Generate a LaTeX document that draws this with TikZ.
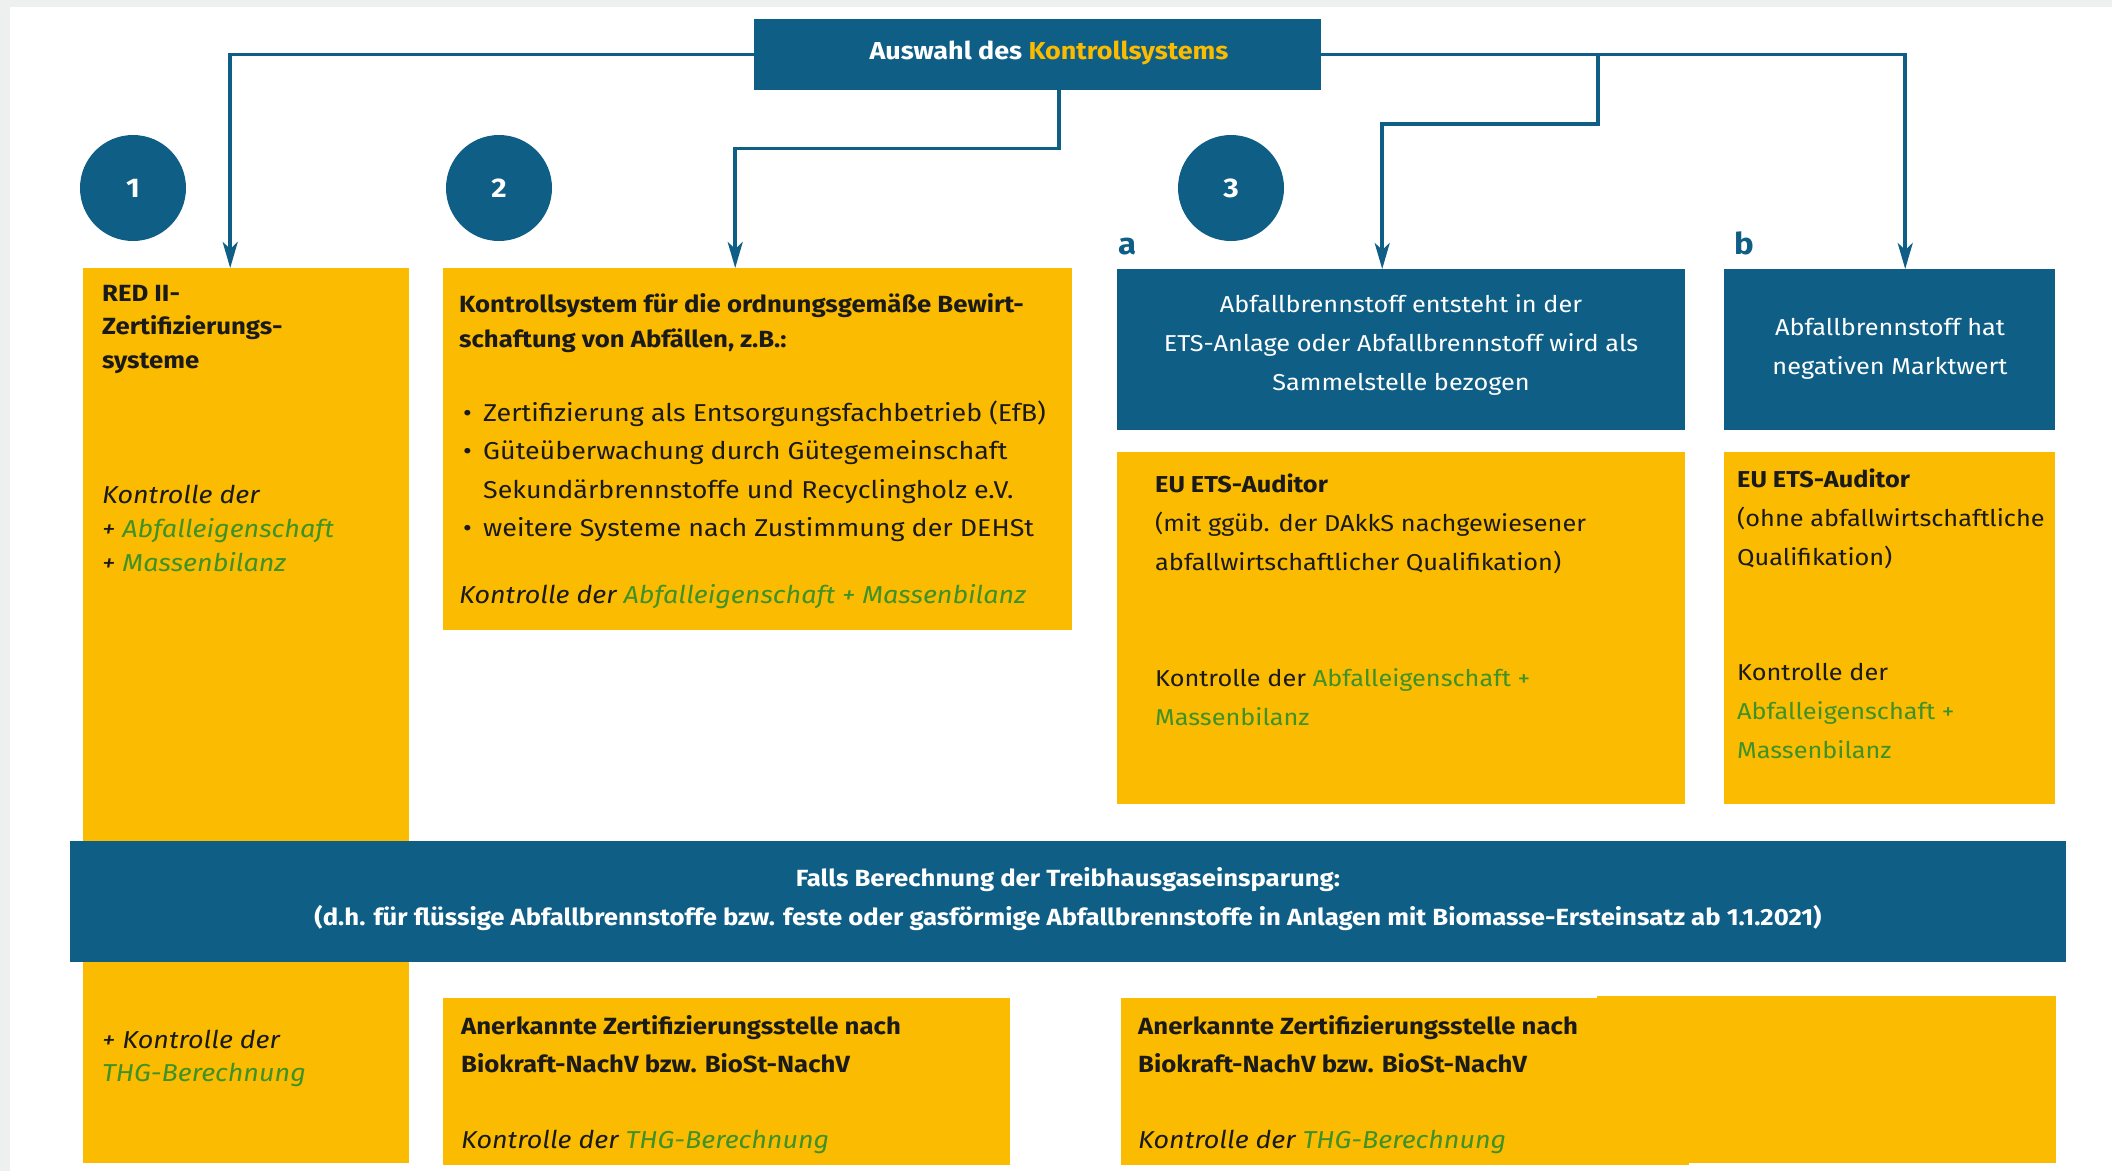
\documentclass[tikz,border=0pt]{standalone}
\usepackage{fontspec}
\setmainfont[FakeStretch=1.1]{Fira Sans}
\usetikzlibrary{arrows.meta}
\definecolor{ublue}{HTML}{0E5E86}
\definecolor{uyellow}{HTML}{FABB00}
\definecolor{tgreen}{HTML}{3F9129}
\definecolor{tblack}{HTML}{1A1A1A}
\definecolor{framegray}{HTML}{EEF0EF}
\newcommand{\fl}{\rule{0pt}{22pt}}
\begin{document}
\begin{tikzpicture}[x=1pt,y=-1pt,
  ybox/.style={fill=uyellow,draw=none,inner sep=0pt,anchor=north west},
  bbox/.style={fill=ublue,draw=none,inner sep=0pt,anchor=north west},
  txt/.style={inner sep=0pt,anchor=north west,align=left,text=tblack},
  wtxt/.style={inner sep=0pt,anchor=north,align=center,text=white},
  numc/.style={circle,fill=ublue,minimum size=106pt,inner sep=0pt,text=white,font=\fontsize{27}{27}\selectfont\bfseries},
  lbl/.style={inner sep=0pt,anchor=base west,text=ublue,font=\fontsize{30}{30}\selectfont\bfseries},
  conn/.style={draw=ublue,line width=3.5pt,-{Stealth[length=26pt,width=15pt,inset=7pt]}},
  fr/.style={font=\fontsize{23}{#1}\selectfont},
  fb/.style={font=\fontsize{23.4}{#1}\selectfont\bfseries},
  fi/.style={font=\fontsize{24.5}{#1}\selectfont\itshape},
  fu/.style={font=\fontsize{24.4}{#1}\selectfont}]
\fill[framegray] (0,0) rectangle (2112,1171);
\fill[white] (10,7) rectangle (2112,1171);
\useasboundingbox (0,0) rectangle (2112,1171);

% boxes
\node[ybox,minimum width=326pt,minimum height=895pt] (box1) at (83,268) {};
\node[ybox,minimum width=629pt,minimum height=362pt] (box2) at (443,268) {};
\node[bbox,minimum width=568pt,minimum height=161pt] (boxa) at (1117,269) {};
\node[bbox,minimum width=331pt,minimum height=161pt] (boxb) at (1724,269) {};
\node[ybox,minimum width=568pt,minimum height=352pt] (boxay) at (1117,452) {};
\node[ybox,minimum width=331pt,minimum height=352pt] (boxby) at (1724,452) {};
\node[bbox,minimum width=1996pt,minimum height=121pt] (band) at (70,841) {};
\node[ybox,minimum width=567pt,minimum height=167pt] (bot2) at (443,998) {};
\node[ybox,minimum width=568pt,minimum height=167pt] (bot3) at (1121,998) {};
\fill[uyellow] (1597,996) rectangle (2056,1163);
\node[bbox,minimum width=567pt,minimum height=71pt] (title) at (754,19) {};
\node[inner sep=0pt,anchor=base,text=white,font=\fontsize{24.5}{25}\selectfont\bfseries] (ttext) at (1049,59) {Auswahl des \textcolor{uyellow}{Kontrollsystems}};

% circles and labels
\node[numc] (c1) at (133,188) {1};
\node[numc] (c2) at (499,188) {2};
\node[numc] (c3) at (1231,188) {3};
\node[lbl] (la) at (1118,254) {a};
\node[lbl] (lb) at (1734,254) {b};

% connectors
\coordinate (br) at (1598,53);
\draw[conn] (title.west) -| ([xshift=-16pt]box1.north);
\draw[conn] ([xshift=21.5pt]title.south) -- ++(0,58) -| ([xshift=-22.5pt]box2.north);
\draw[conn] (title.east) -| ([xshift=15.5pt]boxb.north);
\draw[conn] (br) -- ++(0,71) -| ([xshift=-19pt]boxa.north);

% box 1 texts
\node[txt,fb=33.5] (t1a) at (102,279) {\fl RED II-\\Zertifizierungs-\\systeme};
\node[txt,fi=34] (t1b) at (102,481) {\fl Kontrolle der\\+ \textcolor{tgreen}{Abfalleigenschaft}\\+ \textcolor{tgreen}{Massenbilanz}};
\node[txt,fi=33] (t1c) at (102,1026) {\fl + Kontrolle der\\\textcolor{tgreen}{THG-Berechnung}};

% box 2 texts
\node[txt,fb=35] (t2a) at (459,290) {\fl Kontrollsystem für die ordnungsgemäße Bewirt-\\schaftung von Abfällen, z.B.:};
\node[txt,fu=38.5] (t2b) at (463,399) {\fl\makebox[20pt][l]{•}Zertifizierung als Entsorgungsfachbetrieb (EfB)\\\makebox[20pt][l]{•}Güteüberwachung durch Gütegemeinschaft\\\makebox[20pt][l]{}Sekundärbrennstoffe und Recyclingholz e.V.\\\makebox[20pt][l]{•}weitere Systeme nach Zustimmung der DEHSt};
\node[txt,fi=31] (t2c) at (459,581) {\fl Kontrolle der \textcolor{tgreen}{Abfalleigenschaft + Massenbilanz}};

% box a / b blue texts
\node[wtxt,fr=39] (tat) at (1401,290) {\fl Abfallbrennstoff entsteht in der\\ETS-Anlage oder Abfallbrennstoff wird als\\Sammelstelle bezogen};
\node[wtxt,fr=39] (tbt) at (1890,313) {\fl Abfallbrennstoff hat\\negativen Marktwert};

% box a / b yellow texts
\node[txt,fr=39] (tay1) at (1155,470) {\fl\textbf{EU ETS-Auditor}\\(mit ggüb. der DAkkS nachgewiesener\\abfallwirtschaftlicher Qualifikation)};
\node[txt,fr=39] (tay2) at (1155,664) {\fl Kontrolle der \textcolor{tgreen}{Abfalleigenschaft +}\\\textcolor{tgreen}{Massenbilanz}};
\node[txt,fr=39] (tby1) at (1737,465) {\fl\textbf{EU ETS-Auditor}\\(ohne abfallwirtschaftliche\\Qualifikation)};
\node[txt,fr=39] (tby2) at (1737,658) {\fl Kontrolle der\\\textcolor{tgreen}{Abfalleigenschaft +}\\\textcolor{tgreen}{Massenbilanz}};

% band text
\node[wtxt,fb=39] (tband) at (1068,864) {\fl Falls Berechnung der Treibhausgaseinsparung:\\(d.h. für flüssige Abfallbrennstoffe bzw. feste oder gasförmige Abfallbrennstoffe in Anlagen mit Biomasse-Ersteinsatz ab 1.1.2021)};

% bottom texts
\node[txt,fb=38] (tb2a) at (461,1012) {\fl Anerkannte Zertifizierungsstelle nach\\Biokraft-NachV bzw. BioSt-NachV};
\node[txt,fi=31] (tb2b) at (461,1126) {\fl Kontrolle der \textcolor{tgreen}{THG-Berechnung}};
\node[txt,fb=38] (tb3a) at (1138,1012) {\fl Anerkannte Zertifizierungsstelle nach\\Biokraft-NachV bzw. BioSt-NachV};
\node[txt,fi=31] (tb3b) at (1138,1126) {\fl Kontrolle der \textcolor{tgreen}{THG-Berechnung}};
\end{tikzpicture}
\end{document}
